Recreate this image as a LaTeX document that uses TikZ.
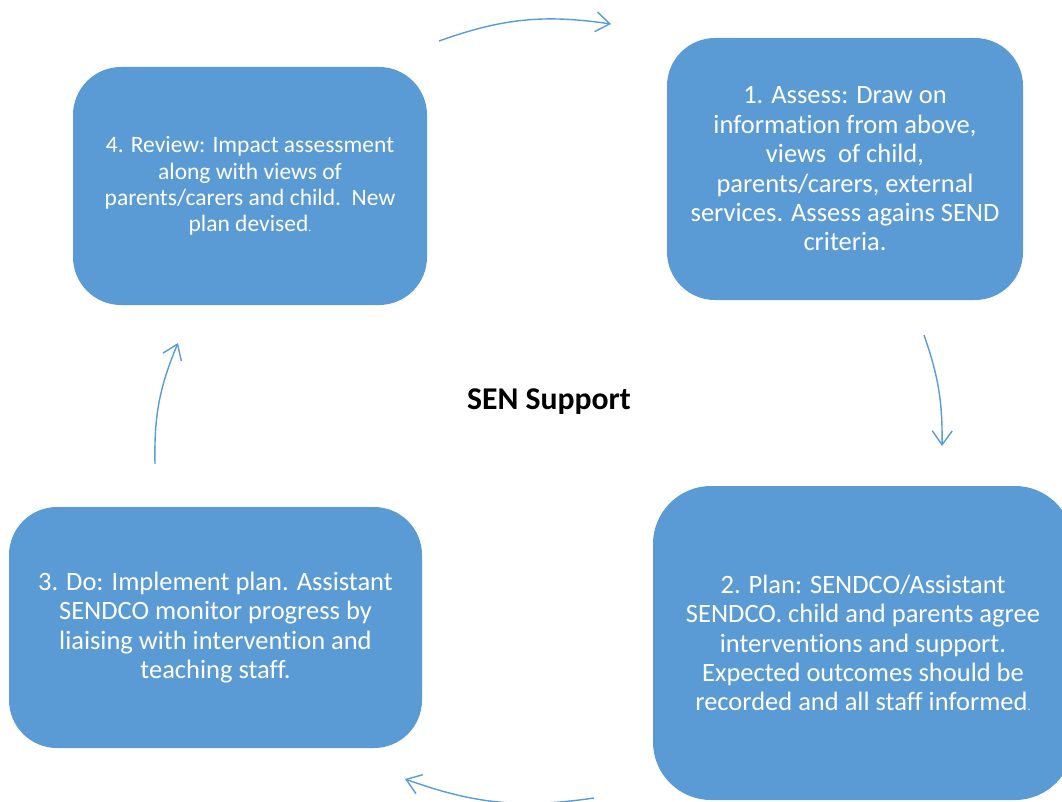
\documentclass[tikz,border=0pt]{standalone}
\usepackage{fontspec}
\setmainfont{Carlito}[Ligatures={NoCommon}]
\usetikzlibrary{arrows.meta}
\definecolor{boxblue}{HTML}{5B9BD5}
\tikzset{
  stagebox/.style={fill=boxblue, draw=none, rounded corners=48, text=white, align=center, inner sep=0pt},
  bigtext/.style={font=\fontsize{26.5}{29.4}\selectfont},
  smalltext/.style={font=\fontsize{23.5}{26.2}\selectfont},
  cyclearrow/.style={draw=boxblue, line width=1.4, -{Straight Barb[length=14, width=20, line width=1.4]}}
}
\newcommand{\tinydot}{{\fontsize{12}{12}\selectfont.}}
\begin{document}
\begin{tikzpicture}[x=1pt,y=-1pt]
\useasboundingbox (0,0) rectangle (1062,802);
\begin{scope}
\clip (0,0) rectangle (1062,802);
\node[stagebox, smalltext, minimum width=354, minimum height=238] (review) at (250,186)
  {4. Review: Impact assessment\\along with views of\\parents/carers and child.\ \ New\\plan devised\tinydot};
\node[stagebox, bigtext, minimum width=356, minimum height=262] (assess) at (845,169)
  {1. Assess: Draw on\\information from above,\\views\ \ of child,\\parents/carers, external\\services. Assess agains SEND\\criteria.};
\node[stagebox, bigtext, minimum width=413, minimum height=241] (do) at (215.5,627.5)
  {3. Do: Implement plan. Assistant\\SENDCO monitor progress by\\liaising with intervention and\\teaching staff.};
\node[stagebox, bigtext, minimum width=420, minimum height=314, rounded corners=58] (plan) at (863,643)
  {2. Plan: SENDCO/Assistant\\SENDCO. child and parents agree\\interventions and support.\\Expected outcomes should be\\recorded and all staff informed\tinydot};
\end{scope}
\node[font=\fontsize{31.7}{34}\selectfont\bfseries] (title) at (549,402) {SEN Support};
\coordinate (a1s) at (439,41);
\coordinate (a1e) at (611,24);
\coordinate (a2s) at (924,335);
\coordinate (a2e) at (942,446);
\coordinate (a3s) at (594,798);
\coordinate (a3e) at (405,779);
\coordinate (a4s) at (155,464);
\coordinate (a4e) at (178,343);
\draw[cyclearrow] (a1s) to[bend left=14] (a1e);
\draw[cyclearrow] (a2s) to[bend left=10] (a2e);
\draw[cyclearrow] (a3s) to[bend left=14] (a3e);
\draw[cyclearrow] (a4s) to[bend left=12] (a4e);
\end{tikzpicture}
\end{document}
